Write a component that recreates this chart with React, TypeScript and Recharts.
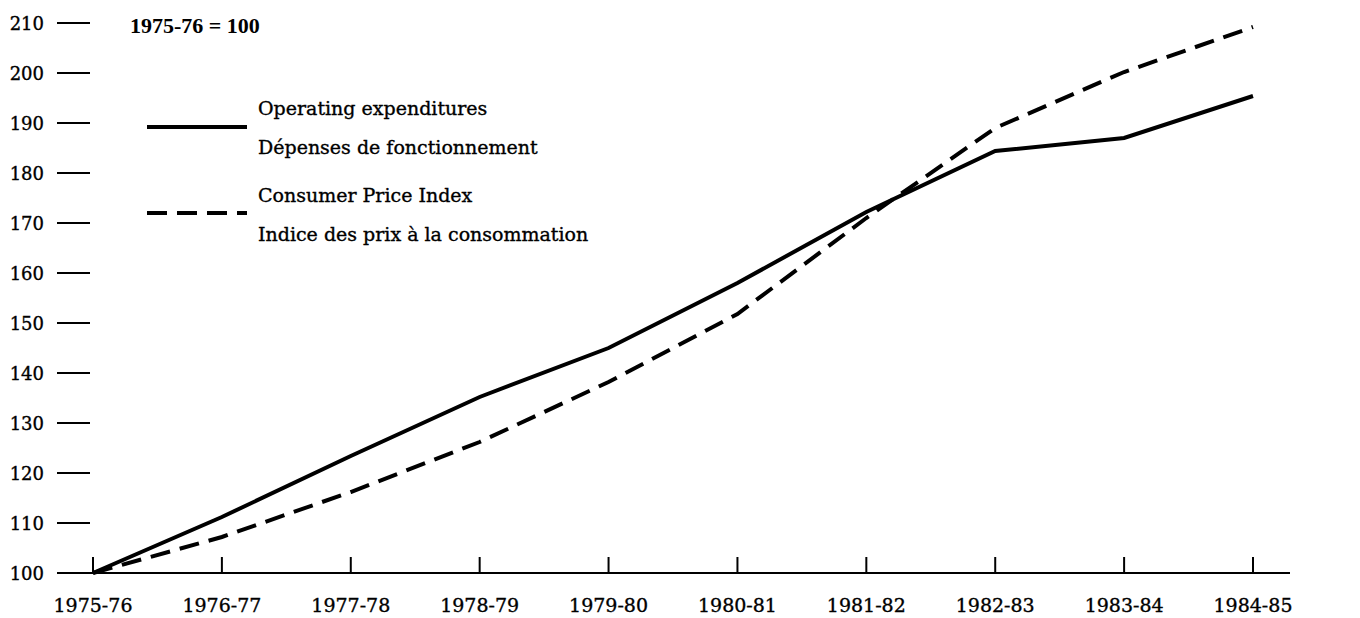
import React from 'react';
import { LineChart, Line, XAxis, YAxis } from 'recharts';

const categories = ['1975-76', '1976-77', '1977-78', '1978-79', '1979-80', '1980-81', '1981-82', '1982-83', '1983-84', '1984-85'];
const operatingExpenditures = [100, 111.2, 123.4, 135.2, 145, 158, 172.2, 184.4, 187, 195.4];
const consumerPriceIndex = [100, 107.2, 116.2, 126.2, 138.2, 151.8, 171, 189, 200.2, 209.2];
const yTicks = [100, 110, 120, 130, 140, 150, 160, 170, 180, 190, 200, 210];

const seriesInfo = [
  { key: 'ope', lines: ['Operating expenditures', 'Dépenses de fonctionnement'], dash: undefined as string | undefined },
  { key: 'cpi', lines: ['Consumer Price Index', 'Indice des prix à la consommation'], dash: '20 10' },
];

const data = categories.map((c, i) => ({ cat: c, ope: operatingExpenditures[i], cpi: consumerPriceIndex[i] }));

const FONT = '"DejaVu Serif", serif';
const W = 1344;
const H = 610;
const PLOT_LEFT = 49;
const PLOT_RIGHT = 1282;
const BASE_Y = 565;
const INK = { fill: '#000', stroke: '#000', strokeWidth: 0.35 };

const LeftTick = (props: any) => {
  const { y, payload } = props;
  return (
    <g>
      <line x1={PLOT_LEFT} x2={PLOT_LEFT + 33} y1={y} y2={y} stroke="#000" strokeWidth={2} />
      <text x={36} y={y} textAnchor="end" dominantBaseline="central" fontFamily={FONT} fontSize={18} {...INK}>
        {payload.value}
      </text>
    </g>
  );
};

const RightTick = (props: any) => {
  const { y, payload } = props;
  return (
    <g>
      <line x1={PLOT_RIGHT - 33} x2={PLOT_RIGHT} y1={y} y2={y} stroke="#000" strokeWidth={2} />
      <text x={1307} y={y} textAnchor="start" dominantBaseline="central" fontFamily={FONT} fontSize={18} {...INK}>
        {payload.value}
      </text>
    </g>
  );
};

const BottomTick = (props: any) => {
  const { x, payload } = props;
  return (
    <g>
      <line x1={x} x2={x} y1={BASE_Y} y2={BASE_Y - 16} stroke="#000" strokeWidth={2} />
      <text x={x} y={BASE_Y + 32} textAnchor="middle" dominantBaseline="central" fontFamily={FONT} fontSize={19} {...INK}>
        {payload.value}
      </text>
    </g>
  );
};

const LegendOverlay = () => (
  <svg width={620} height={240} style={{ position: 'absolute', left: 0, top: 0, pointerEvents: 'none' }}>
    <text x={122} y={17} fontFamily='"Liberation Serif", serif' fontSize={22} fontWeight="bold" fill="#000" dominantBaseline="central">
      1975-76 = 100
    </text>
    {seriesInfo.map((s, i) => {
      const top = 100 + i * 87;
      const ly = top + 19 + (i === 1 ? -1 : 0);
      return (
        <g key={s.key}>
          <line x1={139} x2={239} y1={ly} y2={ly} stroke="#000" strokeWidth={4} strokeDasharray={s.dash} />
          <text x={250} y={top} fontFamily={FONT} fontSize={19} dominantBaseline="central" {...INK}>{s.lines[0]}</text>
          <text x={250} y={top + 39} fontFamily={FONT} fontSize={19} dominantBaseline="central" {...INK}>{s.lines[1]}</text>
        </g>
      );
    })}
  </svg>
);

export default function App() {
  return (
    <div style={{ position: 'relative', width: W, height: H, background: '#fff' }}>
      <LineChart width={W} height={H} data={data} margin={{ top: 15, right: 0, bottom: 0, left: 0 }}>
        <XAxis
          dataKey="cat"
          height={H - BASE_Y}
          padding={{ left: 36, right: 37 }}
          axisLine={{ stroke: '#000', strokeWidth: 2 }}
          tickLine={false}
          tick={<BottomTick />}
          interval={0}
        />
        <YAxis
          yAxisId="left"
          orientation="left"
          width={49}
          domain={[100, 210]}
          ticks={yTicks}
          axisLine={false}
          tickLine={false}
          tick={<LeftTick />}
          interval={0}
        />
        <YAxis
          yAxisId="right"
          orientation="right"
          width={62}
          domain={[100, 210]}
          ticks={yTicks}
          axisLine={false}
          tickLine={false}
          tick={<RightTick />}
          interval={0}
        />
        <Line yAxisId="left" type="linear" dataKey="ope" stroke="#000" strokeWidth={4} dot={false} isAnimationActive={false} />
        <Line yAxisId="left" type="linear" dataKey="cpi" stroke="#000" strokeWidth={4} strokeDasharray="20 10" dot={false} isAnimationActive={false} />
      </LineChart>
      <LegendOverlay />
    </div>
  );
}
